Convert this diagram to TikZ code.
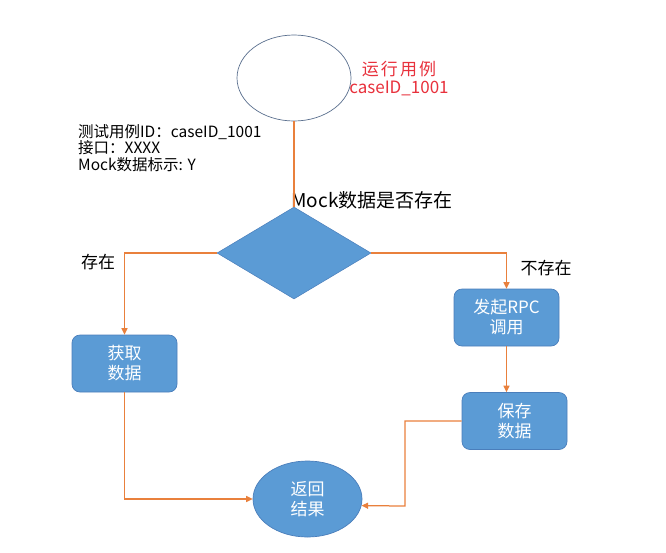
\documentclass[tikz,border=0pt]{standalone}
\usepackage{fontspec}
\setmainfont{Noto Sans CJK SC}
\usepackage{tikz}
\usetikzlibrary{arrows.meta,positioning,shapes.geometric}
\definecolor{flowblue}{HTML}{5B9BD5}
\definecolor{flowedge}{HTML}{4A7EBB}
\definecolor{flowline}{HTML}{E9803C}
\definecolor{ringgray}{HTML}{5A6F8E}
\definecolor{runred}{HTML}{E8313C}
\tikzset{
  >={Triangle[length=6.5pt,width=6pt]},
  % noder
  startn/.style={ellipse,draw=ringgray,fill=white,line width=0.7pt,inner sep=0pt,
                 minimum width=114,minimum height=86},
  endn/.style={ellipse,draw=flowedge,fill=flowblue,line width=0.7pt,inner sep=0pt,
               minimum width=109,minimum height=76,text=white,align=center,
               font=\fontsize{17}{20}\selectfont},
  dec/.style={diamond,draw=flowedge,fill=flowblue,line width=0.5pt,inner sep=0pt,
              minimum width=154,minimum height=92},
  pbox/.style={rectangle,rounded corners=8pt,draw=flowedge,fill=flowblue,line width=0.7pt,
               minimum width=105,minimum height=57,text=white,align=center,
               font=\fontsize{17}{20}\selectfont},
  % text
  runl/.style={text=runred,align=center,inner sep=0pt,font=\fontsize{17}{18}\selectfont},
  infol/.style={align=left,inner sep=0pt,font=\fontsize{15.5}{16.5}\selectfont},
  ql/.style={inner sep=0pt,font=\fontsize{19}{20}\selectfont},
  yn/.style={inner sep=0pt,font=\fontsize{17}{18}\selectfont},
  % linjer
  fe/.style={draw=flowline,line width=1.25pt},
}

\begin{document}
\begin{tikzpicture}[x=1pt,y=-1pt]
\useasboundingbox (0,0) rectangle (666,552);
  \node[startn] (start) at (294,78) {};
  \node[runl] (runlbl) at (399,78.5)
    {{\addfontfeature{LetterSpace=12}运行用例}\\caseID\_1001};
  \node[infol,anchor=west] (info) at (78,148)
    {测试用例ID：caseID\_1001\\接口：XXXX\\Mock数据标示: Y};
  \node[dec] (q) at (294,253) {};
  \node[ql] (qlbl) at (372,200) {Mock数据是否存在};
  \node[pbox] (get) at (124.5,363.5) {获取\\数据};
  \node[pbox] (rpc) at (506.5,317.5) {发起RPC\\调用};
  \node[pbox] (save) at (514.5,421) {保存\\数据};
  \node[endn] (ret) at (307.5,499) {返回\\结果};
  \node[yn] (yes) at (98,262) {存在};
  \node[yn] (no) at (546,268) {不存在};
  \coordinate (turn) at (405,506);
  \draw[fe] (start) -- (q);
  \draw[fe,->] (q.west) -| (get.north);
  \draw[fe,->] (q.east) -| (rpc.north);
  \draw[fe,->] (rpc.south) -- (rpc.south |- save.north);
  \draw[fe,->] (get.south) |- (ret.west);
  \draw[fe,->] (save.west) -| (turn) -- (ret.-7);
\end{tikzpicture}
\end{document}
